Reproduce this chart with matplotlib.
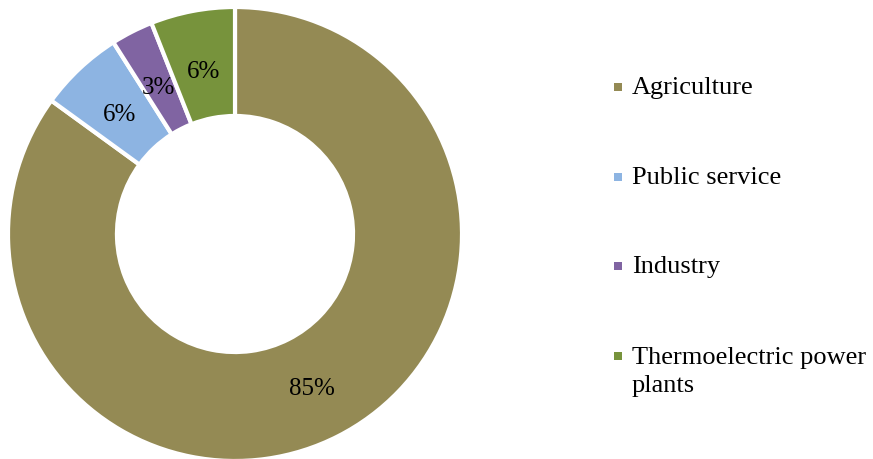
import matplotlib
matplotlib.use("Agg")
import matplotlib.pyplot as plt
from matplotlib.patches import Rectangle

categories = ["Agriculture", "Public service", "Industry", "Thermoelectric power\nplants"]
values = [85, 6, 3, 6]
colors = ["#948A54", "#8DB4E2", "#8064A2", "#77933C"]

plt.rcParams['font.family'] = ['Liberation Serif', 'DejaVu Serif']

W, H = 873, 460
fig = plt.figure(figsize=(W / 100, H / 100), dpi=100)

cx, cy, R = 235, 235, 227
ax = fig.add_axes([(cx - R) / W, (H - cy - R) / H, 2 * R / W, 2 * R / H])
wedges, texts = ax.pie(values, colors=colors, startangle=90, counterclock=False,
                       radius=1.0, labels=[f"{v}%" for v in values], labeldistance=0.745,
                       wedgeprops=dict(width=0.48, edgecolor='white', linewidth=3),
                       textprops=dict(fontsize=18, color='black'))
for t in texts:
    t.set_ha('center')
    t.set_va('center')
    x, y = t.get_position()
    t.set_position((x, y - 0.015))
ax.set_xlim(-1, 1)
ax.set_ylim(-1, 1)
ax.set_aspect('equal')
ax.axis('off')

# legend
ys = [88, 178, 267, 357]
for lab, col, y in zip(categories, colors, ys):
    sq = 8
    fig.patches.append(Rectangle((614 / W, (H - y - sq / 2) / H), sq / W, sq / H,
                                 transform=fig.transFigure, facecolor=col, edgecolor='none'))
    nlines = lab.count('\n') + 1
    yc = y + (nlines - 1) * 15
    fig.text(632 / W, (H - yc) / H, lab, fontsize=19, ha='left', va='center',
             linespacing=1.32)

fig.savefig("out.png", dpi=100)
